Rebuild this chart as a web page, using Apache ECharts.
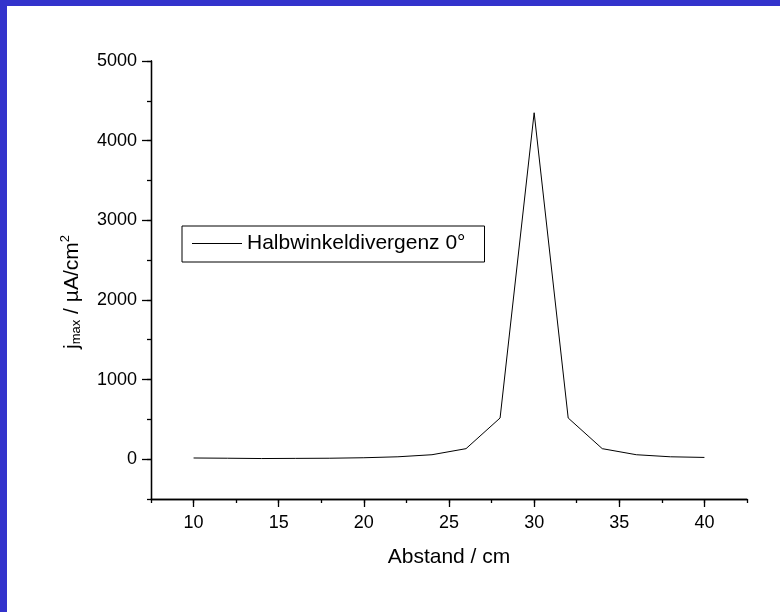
<!DOCTYPE html>
<html>
<head>
<meta charset="utf-8">
<script src="https://cdn.jsdelivr.net/npm/echarts@6/dist/echarts.min.js"></script>
<style>
  html, body { margin: 0; padding: 0; background: #fff; }
  #frame { position: absolute; left: 0; top: 0; width: 773px; height: 606px;
           border-top: 6px solid #3333cc; border-left: 7px solid #3333cc; background: #fff; }
  #chart { width: 773px; height: 606px; }
</style>
</head>
<body>
<div id="frame"><div id="chart"></div></div>
<script>
// Data
const distance = [10, 12, 14, 16, 18, 20, 22, 24, 26, 28, 30, 32, 34, 36, 38, 40];
const jmax = [15, 12, 8, 10, 12, 18, 30, 56, 132, 517, 4350, 517, 132, 56, 30, 22];
const seriesName = 'Halbwinkeldivergenz 0°';
const xMajorTicks = [10, 15, 20, 25, 30, 35, 40];
const yMajorTicks = [0, 1000, 2000, 3000, 4000, 5000];

const font = 'Liberation Sans, Arial, Helvetica, sans-serif';
const chart = echarts.init(document.getElementById('chart'), null, { renderer: 'canvas' });

const axisLineStyle = { color: '#000', width: 1.3 };
const plain = v => String(v);

chart.setOption({
  animation: false,
  backgroundColor: '#fff',
  grid: { left: 144, top: 55, right: 33, bottom: 113, containLabel: false },
  legend: {
    left: 175, top: 220,
    orient: 'vertical',
    padding: [7, 19, 8, 10],
    borderColor: '#000',
    borderWidth: 1,
    itemWidth: 50,
    itemHeight: 14,
    icon: 'path://M0,6.5 L50,6.5 L50,7.5 L0,7.5 Z',
    itemStyle: { color: '#000' },
    textStyle: { fontFamily: font, fontSize: 21, color: '#000' },
    data: [seriesName]
  },
  xAxis: [
    {
      type: 'value', position: 'bottom',
      min: 7.5, max: 42.5, interval: 2.5,
      axisLine: { onZero: false, lineStyle: axisLineStyle },
      axisTick: { show: true, length: 4, inside: false, lineStyle: { color: '#000', width: 1.3 } },
      axisLabel: { show: false },
      splitLine: { show: false },
      name: 'Abstand / cm',
      nameLocation: 'middle',
      nameGap: 48,
      nameTextStyle: { fontFamily: font, fontSize: 21, color: '#000' }
    },
    {
      type: 'value', position: 'bottom',
      min: 7.5, max: 42.5, interval: 2.5,
      axisLine: { onZero: false, lineStyle: axisLineStyle },
      axisTick: { show: true, length: 8, customValues: xMajorTicks, lineStyle: { color: '#000', width: 1.3 } },
      axisLabel: { show: true, customValues: xMajorTicks, margin: 15, formatter: plain,
                   fontFamily: font, fontSize: 18, color: '#000' },
      splitLine: { show: false }
    }
  ],
  yAxis: [
    {
      type: 'value', position: 'left',
      min: -500, max: 5000, interval: 500,
      axisLine: { onZero: false, lineStyle: axisLineStyle },
      axisTick: { show: true, length: 4, lineStyle: { color: '#000', width: 1.3 } },
      axisLabel: { show: false },
      splitLine: { show: false },
      name: '{j|j}{sub|max}{t| / µA/cm}{sup|2}',
      nameLocation: 'middle',
      nameGap: 68,
      nameRotate: 90,
      nameTextStyle: {
        fontFamily: font, fontSize: 21, color: '#000',
        padding: [0, 24, 0, 0],
        rich: {
          j: { fontFamily: font, fontSize: 21, color: '#000', verticalAlign: 'bottom', lineHeight: 24 },
          sub: { fontFamily: font, fontSize: 13, color: '#000', verticalAlign: 'bottom', lineHeight: 24 },
          t: { fontFamily: font, fontSize: 21, color: '#000', verticalAlign: 'bottom', lineHeight: 24 },
          sup: { fontFamily: font, fontSize: 13, color: '#000', verticalAlign: 'top', lineHeight: 24 }
        }
      }
    },
    {
      type: 'value', position: 'left',
      min: -500, max: 5000, interval: 500,
      axisLine: { onZero: false, lineStyle: axisLineStyle },
      axisTick: { show: true, length: 9, customValues: yMajorTicks, lineStyle: { color: '#000', width: 1.3 } },
      axisLabel: { show: true, customValues: yMajorTicks, margin: 14, formatter: plain,
                   fontFamily: font, fontSize: 18, color: '#000' },
      splitLine: { show: false }
    }
  ],
  series: [
    {
      name: seriesName,
      type: 'line',
      xAxisIndex: 0,
      yAxisIndex: 0,
      data: distance.map((d, i) => [d, jmax[i]]),
      symbol: 'none',
      lineStyle: { color: '#000', width: 1 },
      itemStyle: { color: '#000' }
    }
  ]
});
</script>
</body>
</html>
